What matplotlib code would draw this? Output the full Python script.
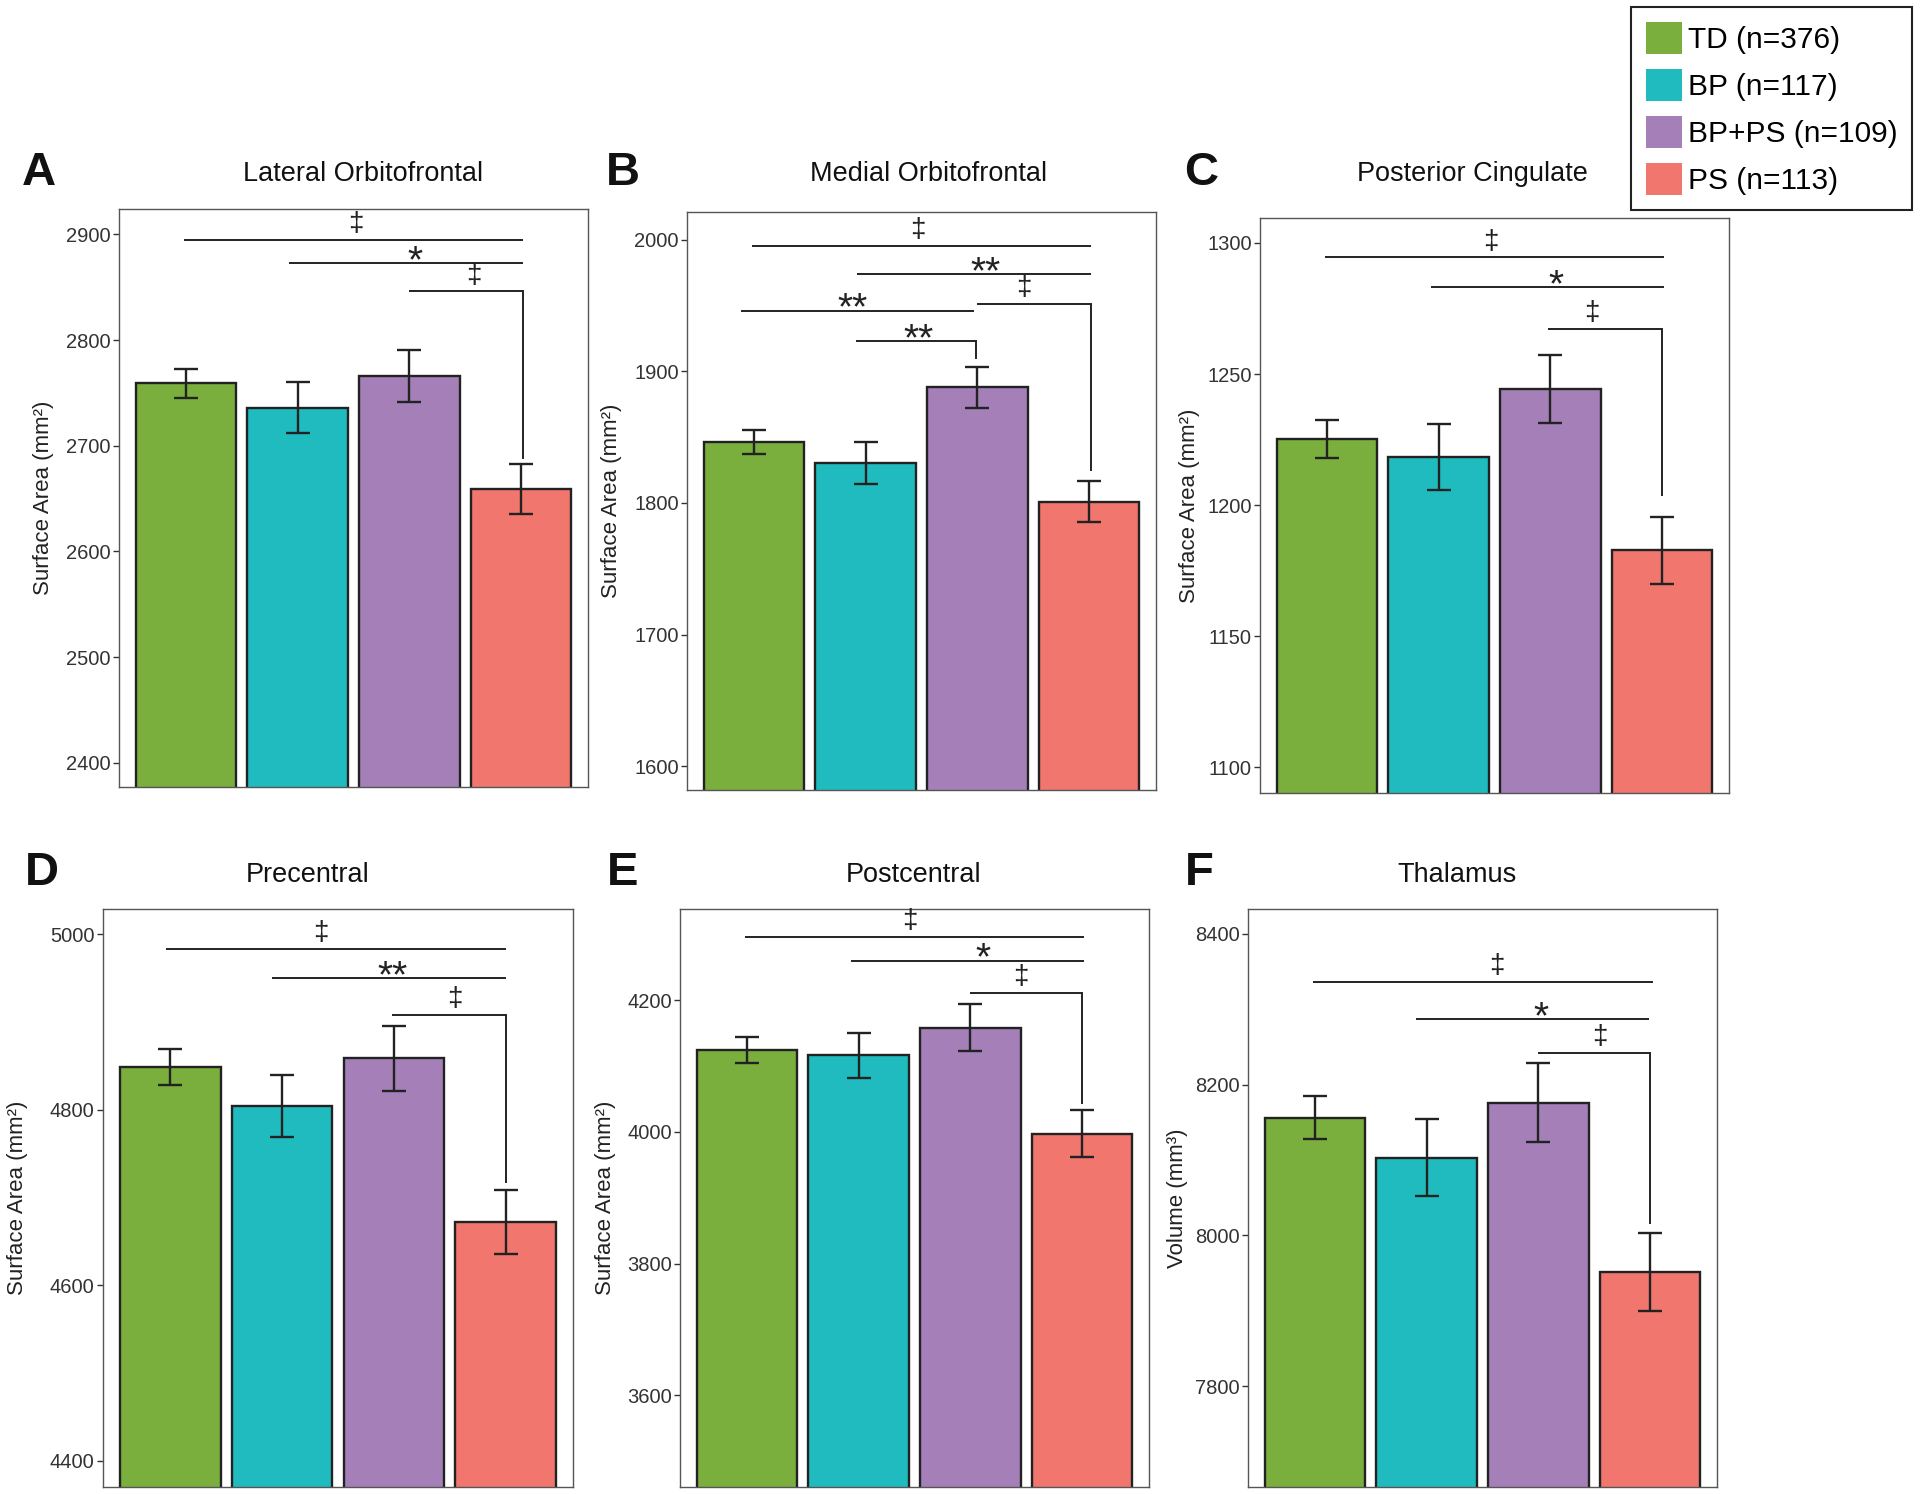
import matplotlib
matplotlib.use("Agg")
import matplotlib.pyplot as plt
import numpy as np
from matplotlib.patches import Patch

plt.rcParams['font.family'] = ['Liberation Sans', 'DejaVu Sans']

# groups
groups = ['TD (n=376)', 'BP (n=117)', 'BP+PS (n=109)', 'PS (n=113)']
colors = ['#7AAE3D', '#20BBBE', '#A47FB8', '#F0766E']

# panels
letters = ['A', 'B', 'C', 'D', 'E', 'F']
titles = ['Lateral Orbitofrontal', 'Medial Orbitofrontal', 'Posterior Cingulate',
          'Precentral', 'Postcentral', 'Thalamus']
ylabels = ['Surface Area (mm²)'] * 5 + ['Volume (mm³)']

# means and standard errors per group
means_A = [2759, 2736, 2766, 2659]
se_A = [13.5, 24, 24.5, 24]
means_B = [1846.3, 1830.4, 1887.9, 1801]
se_B = [9, 15.7, 15.7, 15.6]
means_C = [1225.3, 1218.4, 1244.3, 1182.7]
se_C = [7.3, 12.7, 13, 12.7]
means_D = [4848.4, 4804, 4858.6, 4672]
se_D = [20.4, 35, 37, 36]
means_E = [4124, 4116.5, 4158.2, 3997.5]
se_E = [19.7, 34, 35.5, 35.4]
means_F = [8156.3, 8102.7, 8176.2, 7951.3]
se_F = [29, 51, 52.5, 51.5]

ylims = [(2377, 2924), (1582, 2021), (1090.2, 1309.5),
         (4370, 5028.5), (3460.8, 4338.6), (7666, 8433)]
yticks = [np.arange(2400, 2901, 100), np.arange(1600, 2001, 100),
          np.arange(1100, 1301, 50), np.arange(4400, 5001, 200),
          np.arange(3600, 4201, 200), np.arange(7800, 8401, 200)]

# significance brackets: (x start, x end, y, label, label x, drop-to y or None)
sig_A = [(0.98, 4.015, 2895, '‡', 2.52, None), (1.92, 4.015, 2873, '*', 3.05, None),
         (3.0, 4.015, 2846, '‡', 3.58, 2688)]
sig_B = [(0.98, 4.02, 1995.5, '‡', 2.47, None), (1.92, 4.02, 1974, '**', 3.07, None),
         (3.0, 4.02, 1951.4, '‡', 3.42, 1825), (0.88, 2.97, 1946, '**', 1.88, None),
         (1.91, 2.99, 1923, '**', 2.47, 1910)]
sig_C = [(0.98, 4.02, 1294.5, '‡', 2.47, None), (1.93, 4.02, 1283, '*', 3.05, None),
         (2.98, 4.0, 1267.3, '‡', 3.37, 1204)]
sig_D = [(0.96, 4.0, 4983, '‡', 2.35, None), (1.91, 4.0, 4949.7, '**', 2.99, None),
         (2.98, 4.0, 4907.5, '‡', 3.54, 4718)]
sig_E = [(0.98, 4.02, 4296.2, '‡', 2.46, None), (1.93, 4.02, 4260, '*', 3.11, None),
         (3.0, 4.0, 4211.4, '‡', 3.45, 4044)]
sig_F = [(0.98, 4.03, 8336.4, '‡', 2.63, None), (1.9, 3.99, 8286.6, '*', 3.02, None),
         (3.0, 4.0, 8242.4, '‡', 3.55, 8016.6)]

all_means = [means_A, means_B, means_C, means_D, means_E, means_F]
all_se = [se_A, se_B, se_C, se_D, se_E, se_F]
all_sig = [sig_A, sig_B, sig_C, sig_D, sig_E, sig_F]

W, H = 1920, 1494
fig = plt.figure(figsize=(W / 100, H / 100), dpi=100)

# axes boxes in pixels: left, right, top, bottom
boxes = [(119, 588, 209, 787), (687, 1156, 212, 790), (1260, 1729, 218, 793),
         (103, 573, 909, 1487), (680, 1149, 909, 1487), (1248, 1717, 909, 1487)]
ylabel_x = [44, 612, 1190, 17, 605, 1177]
title_pos = [(363, 174), (929, 174), (1472, 174), (308, 875), (914, 875), (1457, 875)]
letter_pos = [(22, 173), (606, 173), (1184, 173), (25, 873), (607, 873), (1185, 873)]

x = np.arange(1, 5)
for i in range(6):
    l, r, t, b = boxes[i]
    ax = fig.add_axes([l / W, 1 - b / H, (r - l) / W, (b - t) / H])
    ax.bar(x, all_means[i], width=0.9, color=colors, edgecolor='#222222',
           linewidth=1.7, zorder=2)
    ax.errorbar(x, all_means[i], yerr=all_se[i], fmt='none', ecolor='#222222',
                elinewidth=1.7, capsize=8.3, capthick=1.7, zorder=3)
    for x1, x2, y, lab, xl, drop in all_sig[i]:
        ax.plot([x1, x2], [y, y], color='#222222', lw=1.4, zorder=4,
                solid_capstyle='butt')
        if drop is not None:
            ax.plot([x2, x2], [y, drop], color='#222222', lw=1.4, zorder=4)
        if '*' in lab:
            ax.annotate(lab, (xl, y), xytext=(0, -6.5), textcoords='offset points',
                        ha='center', va='baseline', fontsize=28, color='#222222')
        else:
            ax.annotate(lab, (xl, y), xytext=(0, 2), textcoords='offset points',
                        ha='center', va='bottom', fontsize=20, color='#222222')
    ax.set_xlim(0.4, 4.6)
    ax.set_ylim(*ylims[i])
    ax.set_yticks(yticks[i])
    ax.set_xticks([])
    ax.tick_params(axis='y', length=4, width=1, color='#333333',
                   labelsize=14.5, labelcolor='#333333', pad=2)
    for s in ax.spines.values():
        s.set_color('#555555')
        s.set_linewidth(1.0)
    ax.set_ylabel(ylabels[i], fontsize=16, color='#222222', va='center')
    ax.yaxis.set_label_coords((ylabel_x[i] - l) / (r - l), 0.5)
    fig.text(title_pos[i][0] / W, 1 - title_pos[i][1] / H, titles[i],
             ha='center', va='center', fontsize=19.5, color='#111111')
    fig.text(letter_pos[i][0] / W, 1 - letter_pos[i][1] / H, letters[i],
             ha='left', va='center', fontsize=34, fontweight='bold', color='#111111')

handles = [Patch(facecolor=c, edgecolor='none') for c in colors]
leg = fig.legend(handles, groups, loc='upper left',
                 bbox_to_anchor=(1631 / W, 1 - 7 / H), borderaxespad=0,
                 fontsize=21.5, handlelength=1.2, handleheight=1.27,
                 labelspacing=0.5, handletextpad=0.2, borderpad=0.5,
                 fancybox=False, framealpha=1)
leg.get_frame().set_edgecolor('#222222')
leg.get_frame().set_linewidth(1.5)

fig.savefig('out.png', dpi=100)
